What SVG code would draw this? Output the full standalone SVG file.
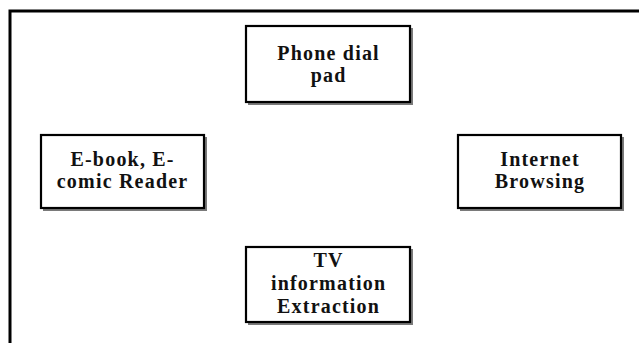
<svg xmlns="http://www.w3.org/2000/svg" width="639" height="343" viewBox="0 0 639 343">
<style>
.frame{fill:none;stroke:#000;stroke-width:3}
.shadow{fill:#7a7a7a;stroke:none}
.box{fill:#fff;stroke:#000;stroke-width:2.2}
.lbl{font-family:"Liberation Serif","Times New Roman",serif;font-weight:bold;font-size:20px;letter-spacing:1.2px;fill:#111;text-anchor:middle}
</style>
<rect x="0" y="0" width="639" height="343" fill="#fff"/>
<path class="frame" d="M10,343 V11 H639"/>
<g id="connectors"/>
<g id="node-phone">
<rect class="shadow" x="248" y="28" width="165" height="77"/>
<rect class="box" x="246" y="26" width="164" height="76"/>
<text class="lbl" x="328.6" y="60">Phone dial</text>
<text class="lbl" x="328.6" y="82">pad</text>
</g>
<g id="node-ebook">
<rect class="shadow" x="43" y="137" width="164" height="74"/>
<rect class="box" x="41" y="135" width="163" height="73"/>
<text class="lbl" x="122.6" y="166">E-book, E-</text>
<text class="lbl" x="122.6" y="188">comic Reader</text>
</g>
<g id="node-internet">
<rect class="shadow" x="460" y="137" width="164" height="74"/>
<rect class="box" x="458" y="135" width="163" height="73"/>
<text class="lbl" x="540" y="166">Internet</text>
<text class="lbl" x="540" y="188">Browsing</text>
</g>
<g id="node-tv">
<rect class="shadow" x="248" y="249" width="165" height="76"/>
<rect class="box" x="246" y="247" width="164" height="75"/>
<text class="lbl" x="328.6" y="267">TV</text>
<text class="lbl" x="328.6" y="290">information</text>
<text class="lbl" x="328.6" y="313">Extraction</text>
</g>
</svg>
